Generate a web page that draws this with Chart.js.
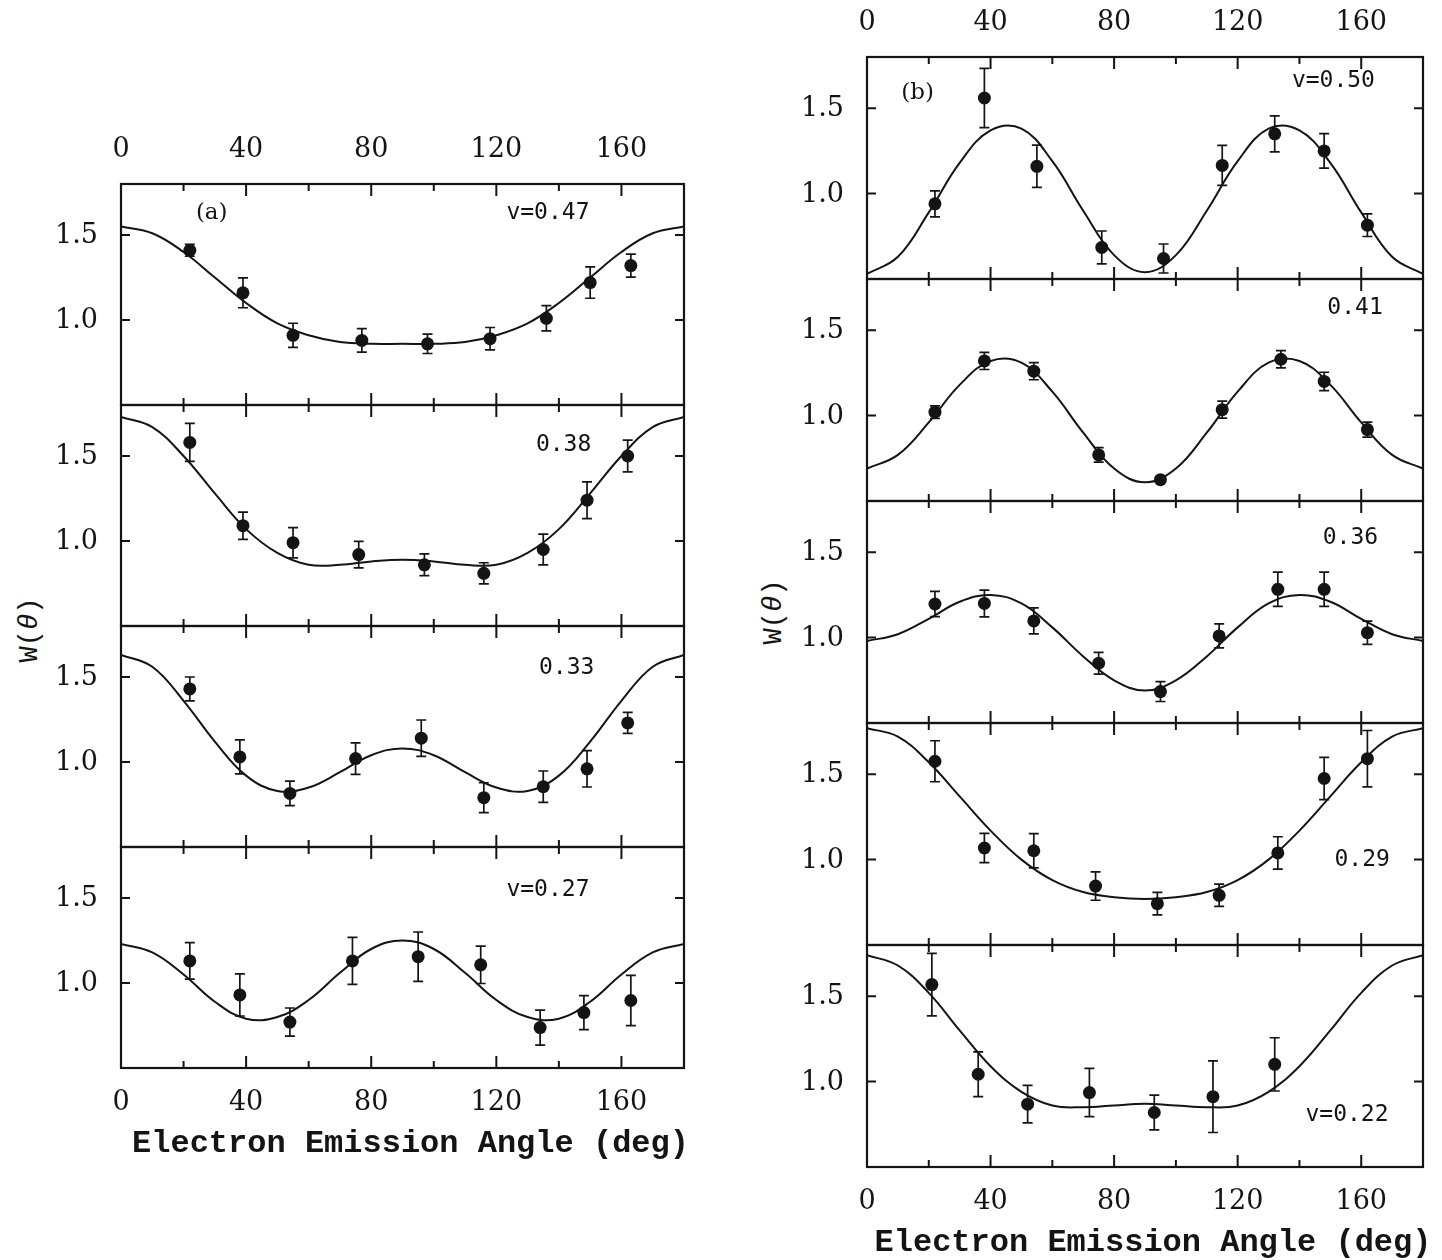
<!DOCTYPE html>
<html>
<head>
<meta charset="utf-8">
<script src="https://cdn.jsdelivr.net/npm/chart.js@4.4.0/dist/chart.umd.min.js"></script>
<style>
  body { margin: 0; background: #fff; }
  #wrap { position: relative; width: 1442px; height: 1260px; overflow: hidden; background: #fff; }
  #wrap canvas { position: absolute; }
  .ylab {
    position: absolute; font-family: 'Liberation Mono', monospace; font-size: 27px; color: #141414;
    transform: translate(-50%, -50%) rotate(-90deg); white-space: nowrap;
  }
</style>
</head>
<body>
<div id="wrap">
  <div class="ylab" style="left:30px; top:630px">W(<i>θ</i>)</div>
  <div class="ylab" style="left:774px; top:612px">W(<i>θ</i>)</div>
</div>
<script>
const ink = '#141414';

// fitted curves are read every 10 degrees
const curveAngles = [0, 10, 20, 30, 40, 50, 60, 70, 80, 90, 100, 110, 120, 130, 140, 150, 160, 170, 180];
const xLabelAngles = [0, 40, 80, 120, 160];
const xTickAngles = [20, 40, 60, 80, 100, 120, 140, 160];
const yTickValues = [1.0, 1.5];
const xTitle = 'Electron Emission Angle (deg)';

// (a) v=0.47
const a1Angles = [22, 39, 55, 77, 98, 118, 136, 150, 163];
const a1Values = [1.41, 1.16, 0.91, 0.88, 0.86, 0.89, 1.01, 1.22, 1.32];
const a1Errors = [0.035, 0.088, 0.071, 0.069, 0.057, 0.066, 0.074, 0.092, 0.068];
const a1Curve = [1.55, 1.51, 1.40, 1.25, 1.10, 0.98, 0.91, 0.87, 0.86, 0.86, 0.86, 0.87, 0.91, 0.98, 1.10, 1.25, 1.40, 1.51, 1.55];

// (a) 0.38
const a2Angles = [22, 39, 55, 76, 97, 116, 135, 149, 162];
const a2Values = [1.58, 1.09, 0.99, 0.92, 0.86, 0.81, 0.95, 1.24, 1.50];
const a2Errors = [0.112, 0.080, 0.089, 0.078, 0.064, 0.062, 0.090, 0.108, 0.093];
const a2Curve = [1.73, 1.67, 1.50, 1.28, 1.07, 0.93, 0.86, 0.86, 0.88, 0.89, 0.88, 0.86, 0.86, 0.93, 1.07, 1.28, 1.50, 1.67, 1.73];

// (a) 0.33
const a3Angles = [22, 38, 54, 75, 96, 116, 135, 149, 162];
const a3Values = [1.43, 1.03, 0.815, 1.02, 1.14, 0.79, 0.855, 0.96, 1.23];
const a3Errors = [0.070, 0.100, 0.072, 0.093, 0.107, 0.088, 0.092, 0.107, 0.062];
const a3Curve = [1.63, 1.56, 1.36, 1.12, 0.92, 0.83, 0.85, 0.94, 1.04, 1.08, 1.04, 0.94, 0.85, 0.83, 0.92, 1.12, 1.36, 1.56, 1.63];

// (a) v=0.27
const a4Angles = [22, 38, 54, 74, 95, 115, 134, 148, 163];
const a4Values = [1.13, 0.93, 0.77, 1.13, 1.155, 1.107, 0.738, 0.826, 0.897];
const a4Errors = [0.107, 0.124, 0.083, 0.138, 0.145, 0.110, 0.103, 0.100, 0.148];
const a4Curve = [1.23, 1.18, 1.05, 0.89, 0.79, 0.80, 0.90, 1.06, 1.20, 1.25, 1.20, 1.06, 0.90, 0.80, 0.79, 0.89, 1.05, 1.18, 1.23];

// (b) v=0.50
const b1Angles = [22, 38, 55, 76, 96, 115, 132, 148, 162];
const b1Values = [0.94, 1.56, 1.16, 0.685, 0.62, 1.165, 1.35, 1.25, 0.815];
const b1Errors = [0.076, 0.173, 0.124, 0.096, 0.085, 0.117, 0.105, 0.101, 0.066];
const b1Curve = [0.53, 0.63, 0.89, 1.18, 1.37, 1.38, 1.19, 0.90, 0.64, 0.54, 0.64, 0.90, 1.19, 1.38, 1.37, 1.18, 0.89, 0.63, 0.53];

// (b) 0.41
const b2Angles = [22, 38, 54, 75, 95, 115, 134, 148, 162];
const b2Values = [1.02, 1.32, 1.26, 0.77, 0.625, 1.035, 1.33, 1.20, 0.918];
const b2Errors = [0.037, 0.050, 0.050, 0.042, 0.015, 0.050, 0.050, 0.054, 0.044];
const b2Curve = [0.69, 0.77, 0.96, 1.18, 1.32, 1.31, 1.14, 0.90, 0.69, 0.61, 0.69, 0.90, 1.14, 1.31, 1.32, 1.18, 0.96, 0.77, 0.69];

// (b) 0.36
const b3Angles = [22, 38, 54, 75, 95, 114, 133, 148, 162];
const b3Values = [1.197, 1.20, 1.098, 0.85, 0.684, 1.01, 1.283, 1.283, 1.029];
const b3Errors = [0.074, 0.078, 0.076, 0.064, 0.058, 0.070, 0.100, 0.100, 0.068];
const b3Curve = [0.98, 1.02, 1.11, 1.21, 1.25, 1.20, 1.06, 0.89, 0.75, 0.69, 0.75, 0.89, 1.06, 1.20, 1.25, 1.21, 1.11, 1.02, 0.98];

// (b) 0.29
const b4Angles = [22, 38, 54, 74, 94, 114, 133, 148, 162];
const b4Values = [1.576, 1.068, 1.052, 0.845, 0.742, 0.791, 1.039, 1.475, 1.591];
const b4Errors = [0.120, 0.086, 0.100, 0.083, 0.066, 0.065, 0.095, 0.124, 0.165];
const b4Curve = [1.77, 1.72, 1.57, 1.37, 1.17, 1.00, 0.88, 0.81, 0.78, 0.77, 0.78, 0.81, 0.88, 1.00, 1.17, 1.37, 1.57, 1.72, 1.77];

// (b) v=0.22
const b5Angles = [21, 36, 52, 72, 93, 112, 132];
const b5Values = [1.568, 1.043, 0.868, 0.936, 0.819, 0.912, 1.101];
const b5Errors = [0.183, 0.131, 0.110, 0.141, 0.102, 0.210, 0.156];
const b5Curve = [1.74, 1.68, 1.52, 1.30, 1.09, 0.94, 0.86, 0.85, 0.86, 0.87, 0.86, 0.85, 0.86, 0.94, 1.09, 1.30, 1.52, 1.68, 1.74];

const columns = {
    a: { left: 121, width: 563, top: 184, height: 221, rows: 4 },
    b: { left: 867, width: 556, top: 57, height: 222, rows: 5 }
};

const panels = [
    { col: 'a', row: 0, angles: a1Angles, values: a1Values, errors: a1Errors, curve: a1Curve,
      notes: [{ text: '(a)', x: 29, y: 1.63, serif: true }, { text: 'v=0.47', x: 136.5, y: 1.63 }] },
    { col: 'a', row: 1, angles: a2Angles, values: a2Values, errors: a2Errors, curve: a2Curve,
      notes: [{ text: '0.38', x: 141.5, y: 1.565 }] },
    { col: 'a', row: 2, angles: a3Angles, values: a3Values, errors: a3Errors, curve: a3Curve,
      notes: [{ text: '0.33', x: 142.5, y: 1.55 }] },
    { col: 'a', row: 3, angles: a4Angles, values: a4Values, errors: a4Errors, curve: a4Curve,
      notes: [{ text: 'v=0.27', x: 136.5, y: 1.547 }] },
    { col: 'b', row: 0, angles: b1Angles, values: b1Values, errors: b1Errors, curve: b1Curve,
      notes: [{ text: '(b)', x: 16.4, y: 1.59, serif: true }, { text: 'v=0.50', x: 151, y: 1.657 }] },
    { col: 'b', row: 1, angles: b2Angles, values: b2Values, errors: b2Errors, curve: b2Curve,
      notes: [{ text: '0.41', x: 158, y: 1.63 }] },
    { col: 'b', row: 2, angles: b3Angles, values: b3Values, errors: b3Errors, curve: b3Curve,
      notes: [{ text: '0.36', x: 156.5, y: 1.582 }] },
    { col: 'b', row: 3, angles: b4Angles, values: b4Values, errors: b4Errors, curve: b4Curve,
      notes: [{ text: '0.29', x: 160.3, y: 1.0 }] },
    { col: 'b', row: 4, angles: b5Angles, values: b5Values, errors: b5Errors, curve: b5Curve,
      notes: [{ text: 'v=0.22', x: 155.4, y: 0.806 }] }
];

// box, inward ticks, error bars and labels
const framePlugin = {
    id: 'frame',
    afterDatasetsDraw(chart, args, opts) {
        const { ctx, chartArea: a } = chart;
        const x = chart.scales.x, y = chart.scales.y;
        ctx.save();
        ctx.strokeStyle = ink;
        ctx.fillStyle = ink;

        // error bars on the data points
        const meta = chart.getDatasetMeta(1);
        ctx.lineWidth = 1.7;
        ctx.beginPath();
        opts.errors.forEach((e, i) => {
            const pt = meta.data[i];
            const v = chart.data.datasets[1].data[i].y;
            const top = y.getPixelForValue(v + e);
            const bot = y.getPixelForValue(v - e);
            ctx.moveTo(pt.x, top); ctx.lineTo(pt.x, bot);
            ctx.moveTo(pt.x - 5, top); ctx.lineTo(pt.x + 5, top);
            ctx.moveTo(pt.x - 5, bot); ctx.lineTo(pt.x + 5, bot);
        });
        ctx.stroke();

        // frame
        ctx.lineWidth = 2.2;
        ctx.strokeRect(a.left, a.top, a.width, a.height);

        ctx.lineWidth = 2;
        ctx.beginPath();
        xTickAngles.forEach(d => {
            const px = x.getPixelForValue(d);
            const len = d % 40 === 0 ? 12 : 7;
            ctx.moveTo(px, a.top); ctx.lineTo(px, a.top + len);
            ctx.moveTo(px, a.bottom); ctx.lineTo(px, a.bottom - len);
        });
        yTickValues.forEach(v => {
            const py = y.getPixelForValue(v);
            ctx.moveTo(a.left, py); ctx.lineTo(a.left + 9, py);
            ctx.moveTo(a.right, py); ctx.lineTo(a.right - 9, py);
        });
        ctx.stroke();

        // y tick labels
        ctx.font = '27px "DejaVu Serif", serif';
        ctx.textAlign = 'right';
        ctx.textBaseline = 'middle';
        yTickValues.forEach(v => {
            ctx.fillText(v.toFixed(1), a.left - 23, y.getPixelForValue(v) + 1);
        });

        // x tick labels on top of first row / bottom of last row
        ctx.textAlign = 'center';
        if (opts.first) {
            xLabelAngles.forEach(d => ctx.fillText(String(d), x.getPixelForValue(d), a.top - 34));
        }
        if (opts.last) {
            xLabelAngles.forEach(d => ctx.fillText(String(d), x.getPixelForValue(d), a.bottom + 35));
            ctx.font = 'bold 32px "Liberation Mono", monospace';
            ctx.fillText(xTitle, (a.left + a.right) / 2 + 8, a.bottom + 76);
        }

        // panel notes
        opts.notes.forEach(n => {
            ctx.font = n.serif ? '23px "DejaVu Serif", serif' : '23px "DejaVu Sans Mono", monospace';
            ctx.fillText(n.text, x.getPixelForValue(n.x), y.getPixelForValue(n.y));
        });
        ctx.restore();
    }
};

const wrap = document.getElementById('wrap');
const padL = 110, padR = 24;

panels.forEach(p => {
    const c = columns[p.col];
    const first = p.row === 0;
    const last = p.row === c.rows - 1;
    const padT = first ? 70 : 24;
    const padB = last ? 100 : 24;
    const w = c.width + padL + padR;
    const h = c.height + padT + padB;

    const canvas = document.createElement('canvas');
    canvas.width = w;
    canvas.height = h;
    canvas.style.width = w + 'px';
    canvas.style.height = h + 'px';
    canvas.style.left = (c.left - padL) + 'px';
    canvas.style.top = (c.top + p.row * c.height - padT) + 'px';
    wrap.appendChild(canvas);

    new Chart(canvas, {
        type: 'scatter',
        data: {
            datasets: [
                {
                    data: curveAngles.map((a, i) => ({ x: a, y: p.curve[i] })),
                    showLine: true,
                    borderColor: ink,
                    borderWidth: 2,
                    pointRadius: 0,
                    tension: 0.4,
                    fill: false
                },
                {
                    data: p.angles.map((a, i) => ({ x: a, y: p.values[i] })),
                    pointRadius: 6.5,
                    backgroundColor: ink,
                    borderColor: ink,
                    borderWidth: 0,
                    clip: false
                }
            ]
        },
        options: {
            responsive: false,
            animation: false,
            devicePixelRatio: 1,
            layout: { padding: { left: padL, right: padR, top: padT, bottom: padB } },
            scales: {
                x: { type: 'linear', min: 0, max: 180, display: false },
                y: { type: 'linear', min: 0.5, max: 1.8, display: false }
            },
            plugins: {
                legend: { display: false },
                tooltip: { enabled: false },
                frame: { errors: p.errors, notes: p.notes, first, last }
            }
        },
        plugins: [framePlugin]
    });
});
</script>
</body>
</html>
